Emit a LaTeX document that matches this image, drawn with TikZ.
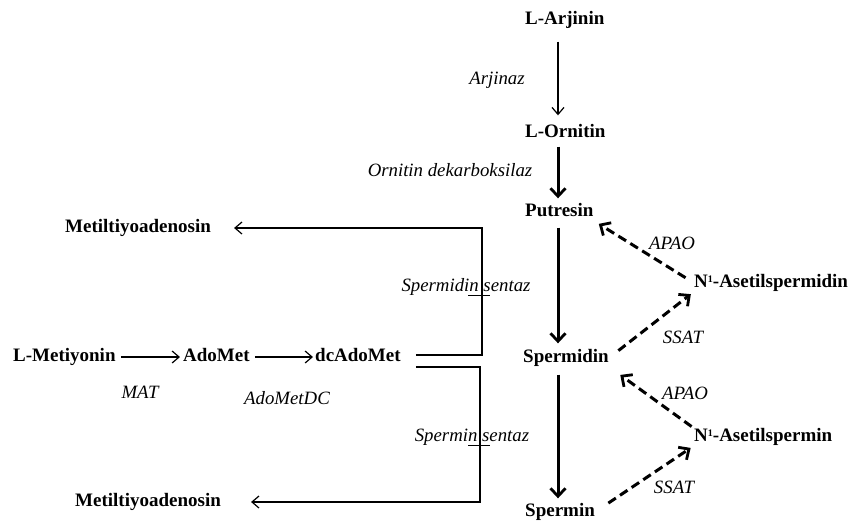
\documentclass[tikz,border=0pt]{standalone}
\usepackage{fontspec}
\setmainfont{Liberation Serif}
\usetikzlibrary{arrows.meta}
\newcommand{\supone}{\raisebox{5.5pt}{\fontsize{10}{10}\selectfont 1}}
\begin{document}
\begin{tikzpicture}[x=1pt,y=-1pt,
  met/.style={font=\fontsize{19}{22}\selectfont\bfseries, inner sep=0pt, text height=13pt, text depth=4pt},
  enz/.style={font=\fontsize{18.8}{21}\selectfont\itshape, inner sep=0pt},
  thinarr/.style={line width=1.1pt, -{Straight Barb[length=7pt,width=12pt,line width=1.2pt]}},
  thickarr/.style={line width=3pt, -{Straight Barb[length=8pt,width=15pt,line width=2.8pt]}},
  dasharr/.style={line width=3pt, dash pattern=on 9pt off 5pt, -{Straight Barb[length=8pt,width=15pt,line width=2.8pt]}},
  bracket/.style={line width=1.1pt}]
\useasboundingbox (0,0) rectangle (849,523);
% metabolites
\node[met, anchor=west] (arj) at (525,20) {L-Arjinin};
\node[met, anchor=west] (orn) at (525,133) {L-Ornitin};
\node[met, anchor=west] (put) at (525,212) {Putresin};
\node[met, anchor=west] (spd) at (523,358) {Spermidin};
\node[met, anchor=west] (spm) at (525,512) {Spermin};
\node[met, anchor=west] (nasd) at (694,283) {N\supone-Asetilspermidin};
\node[met, anchor=west] (nasm) at (694,437) {N\supone-Asetilspermin};
\node[met, anchor=west] (lmet) at (13,357) {L-Metiyonin};
\node[met, anchor=west] (ado) at (183,357) {AdoMet};
\node[met, anchor=west] (dca) at (315,357) {dcAdoMet};
\node[met, anchor=west] (mta1) at (65,228) {Metiltiyoadenosin};
\node[met, anchor=west] (mta2) at (75,502) {Metiltiyoadenosin};
% enzymes
\node[enz] (arjinaz) at (497,80) {Arjinaz};
\node[enz] (odc) at (450,170) {Ornitin dekarboksilaz};
\node[enz] (spdsyn) at (466,287) {Spermidin sentaz};
\node[enz] (spmsyn) at (472,437) {Spermin sentaz};
\node[enz] (apao1) at (672,243) {APAO};
\node[enz] (ssat1) at (683,337) {SSAT};
\node[enz] (apao2) at (685,393) {APAO};
\node[enz] (ssat2) at (674,487) {SSAT};
\node[enz] (mat) at (140,392) {MAT};
\node[enz] (adodc) at (287,398) {AdoMetDC};
% spine
\coordinate (spine) at (558,0);
\draw[thinarr, shorten <=13pt, shorten >=9pt] (arj.south -| spine) -- (orn.north -| spine);
\draw[thickarr, shorten <=5pt, shorten >=5pt] (orn.south -| spine) -- (put.north -| spine);
\draw[thickarr, shorten <=7pt, shorten >=6pt] (put.south -| spine) -- (spd.north -| spine);
\draw[thickarr, shorten <=8pt, shorten >=5pt] (spd.south -| spine) -- (spm.north -| spine);
% dashed branches
\draw[dasharr, shorten <=10pt, shorten >=6pt] (nasd.west) -- (put.south east);
\draw[dasharr, shorten <=12pt, shorten >=4pt] (spd.east) -- (nasd.south west);
\draw[dasharr, shorten <=3pt, shorten >=14pt] (nasm.north west) -- (spd.south east);
\draw[dasharr, shorten <=16pt, shorten >=4pt] (spm.east) -- (nasm.south west);
% methionine row
\draw[thinarr, shorten <=5pt, shorten >=3pt] (lmet.east) -- (ado.west);
\draw[thinarr, shorten <=5pt, shorten >=2pt] (ado.east) -- (dca.west);
% brackets
\coordinate (b1) at (482,355);
\coordinate (b2) at (480,367);
\draw[bracket, thinarr, shorten >=23pt] ([xshift=15pt]dca.east |- b1) -- (b1) |- (mta1.east);
\draw[bracket, thinarr, shorten >=30pt] ([xshift=15pt]dca.east |- b2) -- (b2) |- (mta2.east);
% small ticks
\draw[line width=1pt] (468,295) -- (490,295);
\draw[line width=1pt] (468,445) -- (490,445);
\end{tikzpicture}
\end{document}
